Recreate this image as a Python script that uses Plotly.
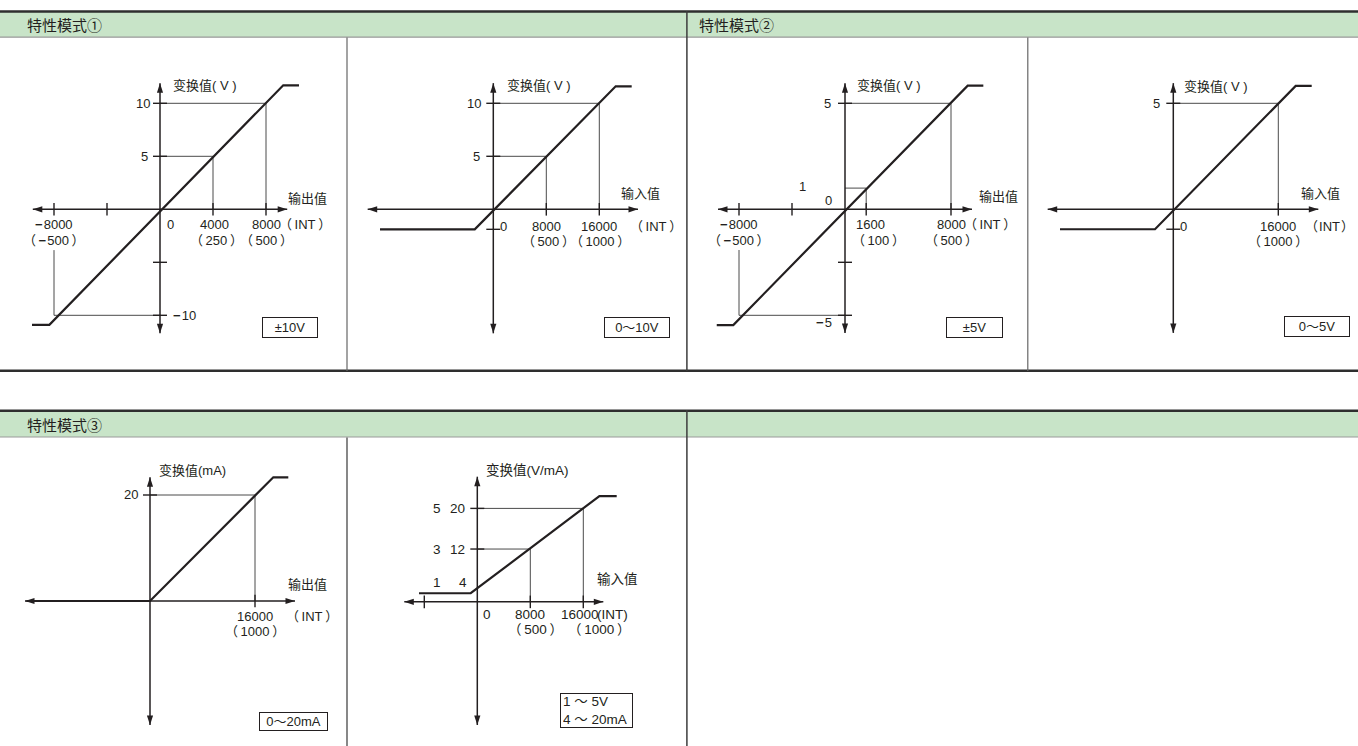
import plotly.graph_objects as go

W, H = 1358, 746
INK = "#231f20"
GUIDE = "#4a4a4a"
GREEN = "#c8e4c8"
FONT = "Liberation Sans, Arial, Noto Sans CJK SC, sans-serif"
CJK = "Noto Sans CJK SC, Liberation Sans, sans-serif"
M = "<b>\u2212</b>\u200a"   # heavy minus sign as in the reference
TS = "\u2009"               # thin space inside the parentheses

# ---------------- data (values in each panel's own units: INT / V / mA) ----------------
# Panel 1 : ±10V
P1_AXIS_X = [-9600, 9600]
P1_AXIS_Y = [-11.7, 11.9]
P1_CURVE_X = [-9660, -8350, 9300, 10490]
P1_CURVE_Y = [-10.9, -10.9, 11.7, 11.7]
P1_GUIDES = [((0, 10), (8000, 10)), ((8000, 10), (8000, 0)),
             ((0, 5), (4000, 5)), ((4000, 5), (4000, 0)),
             ((-8000, -10), (0, -10)), ((-8000, -10), (-8000, -3.85))]
P1_XTICKS = [-8000, -4000, 4000, 8000]
P1_YTICKS = [10, 5, -5, -10]

# Panel 2 : 0~10V
P2_AXIS_X = [-18960, 21840]
P2_AXIS_Y = [-11.7, 11.9]
P2_CURVE_X = [-17100, -2800, 18475, 20890]
P2_CURVE_Y = [-1.89, -1.89, 11.6, 11.6]
P2_GUIDES = [((0, 10), (16000, 10)), ((16000, 10), (16000, 0)),
             ((0, 5), (8000, 5)), ((8000, 5), (8000, 0))]
P2_XTICKS = [8000, 16000]
P2_YTICKS = [10, 5, -1.89]

# Panel 3 : ±5V
P3_AXIS_X = [-9585, 9585]
P3_AXIS_Y = [-5.83, 5.95]
P3_CURVE_X = [-9680, -8430, 9260, 10440]
P3_CURVE_Y = [-5.46, -5.46, 5.83, 5.83]
P3_GUIDES = [((0, 5), (8000, 5)), ((8000, 5), (8000, 0)),
             ((0, 1), (1600, 1)), ((1600, 1), (1600, 0)),
             ((-8000, -5), (0, -5)), ((-8000, -5), (-8000, -1.92))]
P3_XTICKS = [-8000, -4000, 1600, 8000]
P3_YTICKS = [5, -2.5, -5]

# Panel 4 : 0~5V
P4_AXIS_X = [-19140, 22095]
P4_AXIS_Y = [-5.83, 5.95]
P4_CURVE_X = [-17265, -2790, 18650, 21090]
P4_CURVE_Y = [-0.94, -0.94, 5.82, 5.82]
P4_GUIDES = [((0, 5), (16000, 5)), ((16000, 5), (16000, 0))]
P4_XTICKS = [16000]
P4_YTICKS = [5, -0.94]

# Panel 5 : 0~20mA
P5_AXIS_X = [-19050, 22095]
P5_AXIS_Y = [-23.4, 23.34]
P5_CURVE_X = [-18790, 0, 18790, 21075]
P5_CURVE_Y = [0, 0, 23.34, 23.34]
P5_GUIDES = [((0, 20), (16000, 20)), ((16000, 20), (16000, 0))]
P5_XTICKS = [16000]
P5_YTICKS = [20]

# Panel 6 : 1~5V / 4~20mA
P6_BASE = 1.6
P6_AXIS_X = [-11020, 19020]
P6_AXIS_Y = [-22.64, 26.24]
P6_CURVE_X = [-8800, -1000, 18430, 21040]
P6_CURVE_Y = [3.3, 3.3, 22.43, 22.43]
P6_GUIDES = [((0, 20), (16000, 20)), ((16000, 20), (16000, P6_BASE)),
             ((0, 12), (8000, 12)), ((8000, 12), (8000, P6_BASE))]
P6_XTICKS = [-8000, 8000, 16000]
P6_YTICKS = [20, 12]
P6_V_LEVELS = ["5", "3", "1"]
P6_MA_LEVELS = [20, 12, 4]

TITLES = ["特性模式①", "特性模式②", "特性模式③"]


def par(s, sp=TS):
    return "（" + sp + s + sp + "）"


# labels: (text, x, y, xanchor, xshift, yshift)
P1_LABELS = [("变换值( V )", 0, P1_AXIS_Y[1], "left", 12, -2), ("10", 0, 10, "right", -9, 0),
             ("5", 0, 5, "right", -11, 0), ("输出值", P1_AXIS_X[1], 0, "left", 0, 11),
             (M + "8000", -8000, 0, "center", 0, -15), (par(M + "500"), -8000, 0, "center", 0, -31),
             ("0", 0, 0, "center", 10, -15), ("4000", 4000, 0, "center", 1, -15),
             (par("250"), 4000, 0, "center", 3, -31), ("8000", 8000, 0, "center", 0, -15),
             (par("INT"), 8000, 0, "left", 12, -15), (par("500"), 8000, 0, "center", 0, -31),
             (M + "10", 0, -10, "left", 12, 0)]
P2_LABELS = [("变换值( V )", 0, P2_AXIS_Y[1], "left", 13, -2), ("10", 0, 10, "right", -11, 0),
             ("5", 0, 5, "right", -12, 0), ("输入值", P2_AXIS_X[1], 0, "left", -18, 16),
             ("0", 0, 0, "center", 10, -17), ("8000", 8000, 0, "center", 0, -17),
             (par("500"), 8000, 0, "center", 2, -32), ("16000", 16000, 0, "center", 0, -17),
             (par("1000"), 16000, 0, "center", 1, -32), (par("INT"), 16000, 0, "left", 30, -17)]
P3_LABELS = [("变换值( V )", 0, P3_AXIS_Y[1], "left", 11, -2), ("5", 0, 5, "right", -13, 0),
             ("1", 0, 1, "center", -43, 2), ("0", 0, 0, "center", -17, 9),
             ("输出值", P3_AXIS_X[1], 0, "left", 6, 13),
             (M + "8000", -8000, 0, "center", 0, -15), (par(M + "500"), -8000, 0, "center", 0, -31),
             ("1600", 1600, 0, "center", 4, -15), (par("100"), 1600, 0, "center", 12, -31),
             ("8000", 8000, 0, "center", 0, -15), (par("INT"), 8000, 0, "left", 12, -15),
             (par("500"), 8000, 0, "center", 0, -31), (M + "5", 0, -5, "right", -12, -7)]
P4_LABELS = [("变换值( V )", 0, P4_AXIS_Y[1], "left", 10, -3), ("5", 0, 5, "right", -12, 0),
             ("输入值", P4_AXIS_X[1], 0, "left", -18, 16), ("0", 0, 0, "center", 10, -17),
             ("16000", 16000, 0, "center", 0, -17), (par("1000"), 16000, 0, "center", 0, -32),
             (par("INT", "\u200a"), 16000, 0, "left", 26, -17)]
P5_LABELS = [("变换值(mA)", 0, P5_AXIS_Y[1], "left", 8, 7), ("20", 0, 20, "right", -11, 0),
             ("输出值", P5_AXIS_X[1], 0, "left", -8, 17),
             ("16000", 16000, 0, "center", 0, -15), (par("1000"), 16000, 0, "center", 0, -30),
             (par("INT"), 16000, 0, "left", 30, -15)]
P6_LABELS = [("变换值(V/mA)", 0, P6_AXIS_Y[1], "left", 8, 6),
             ("输入值", P6_AXIS_X[1], P6_BASE, "left", -7, 22),
             ("0", 0, P6_BASE, "center", 10, -13), ("8000", 8000, P6_BASE, "center", 0, -13),
             (par("500"), 8000, P6_BASE, "center", 5, -28), ("16000", 16000, P6_BASE, "center", -3, -13),
             ("(INT)", 16000, P6_BASE, "left", 13, -13), (par("1000"), 16000, P6_BASE, "center", 16, -28)]
for v, m in zip(P6_V_LEVELS, P6_MA_LEVELS):
    dy = 7 if m == 4 else 0
    P6_LABELS.append((v, 0, m, "center", -40, dy))
    P6_LABELS.append((str(m), 0, m, "center", -14 if m == 4 else -20, dy))

# ---------------- layout of the panels (pixels) ----------------
# box = (left, right, top, bottom), origin = pixel of data point (0,0), scale = px per unit
PANELS = [
    dict(box=(0, 347, 38, 370), origin=(160, 209.3), scale=(106 / 8000, 10.6), base=0,
         ax=P1_AXIS_X, ay=P1_AXIS_Y, cx=P1_CURVE_X, cy=P1_CURVE_Y, guides=P1_GUIDES,
         xt=P1_XTICKS, yt=P1_YTICKS, labels=P1_LABELS, size=13,
         tag="±10V", tagbox=(262, 318, 317, 338), align="center"),
    dict(box=(348, 686, 38, 370), origin=(493.3, 209.3), scale=(53 / 8000, 10.6), base=0,
         ax=P2_AXIS_X, ay=P2_AXIS_Y, cx=P2_CURVE_X, cy=P2_CURVE_Y, guides=P2_GUIDES,
         xt=P2_XTICKS, yt=P2_YTICKS, labels=P2_LABELS, size=13,
         tag="0～10V", tagbox=(604, 670, 317, 338), align="center"),
    dict(box=(688, 1027, 38, 370), origin=(845, 209.3), scale=(106 / 8000, 21.2), base=0,
         ax=P3_AXIS_X, ay=P3_AXIS_Y, cx=P3_CURVE_X, cy=P3_CURVE_Y, guides=P3_GUIDES,
         xt=P3_XTICKS, yt=P3_YTICKS, labels=P3_LABELS, size=13,
         tag="±5V", tagbox=(946, 1003, 317, 338), align="center"),
    dict(box=(1029, 1358, 38, 370), origin=(1173.3, 209.3), scale=(105 / 16000, 21.2), base=0,
         ax=P4_AXIS_X, ay=P4_AXIS_Y, cx=P4_CURVE_X, cy=P4_CURVE_Y, guides=P4_GUIDES,
         xt=P4_XTICKS, yt=P4_YTICKS, labels=P4_LABELS, size=13,
         tag="0～5V", tagbox=(1284, 1350, 316, 337), align="center"),
    dict(box=(0, 347, 438, 746), origin=(150, 601), scale=(105 / 16000, 5.3), base=0,
         ax=P5_AXIS_X, ay=P5_AXIS_Y, cx=P5_CURVE_X, cy=P5_CURVE_Y, guides=P5_GUIDES,
         xt=P5_XTICKS, yt=P5_YTICKS, labels=P5_LABELS, size=13,
         tag="0～20mA", tagbox=(259, 328, 712, 731), align="center"),
    dict(box=(348, 686, 438, 746), origin=(477.3, 610), scale=(53 / 8000, 5.08), base=P6_BASE,
         ax=P6_AXIS_X, ay=P6_AXIS_Y, cx=P6_CURVE_X, cy=P6_CURVE_Y, guides=P6_GUIDES,
         xt=P6_XTICKS, yt=P6_YTICKS, labels=P6_LABELS, size=13.5,
         tag="1 ～ 5V<br>4 ～ 20mA", tagbox=(560, 633, 693, 728), align="left"),
]

fig = go.Figure()
annotations = []
layout_axes = {}

for i, p in enumerate(PANELS, start=1):
    sfx = "" if i == 1 else str(i)
    xa, ya = "x" + sfx, "y" + sfx
    l, r, t, b = p["box"]
    ox, oy = p["origin"]
    sx, sy = p["scale"]
    layout_axes["xaxis" + sfx] = dict(domain=[l / W, r / W], range=[(l - ox) / sx, (r - ox) / sx],
                                      visible=False, anchor=ya, fixedrange=True)
    layout_axes["yaxis" + sfx] = dict(domain=[1 - b / H, 1 - t / H], range=[(oy - b) / sy, (oy - t) / sy],
                                      visible=False, anchor=xa, fixedrange=True)
    base = p["base"]
    common = dict(xaxis=xa, yaxis=ya, hoverinfo="skip", showlegend=False)

    # guide lines
    gx, gy = [], []
    for (x0, y0), (x1, y1) in p["guides"]:
        gx += [x0, x1, None]
        gy += [y0, y1, None]
    fig.add_trace(go.Scatter(x=gx, y=gy, mode="lines", line=dict(color=GUIDE, width=1), **common))

    # axes
    fig.add_trace(go.Scatter(x=[p["ax"][0], p["ax"][1], None, 0, 0],
                             y=[base, base, None, p["ay"][0], p["ay"][1]],
                             mode="lines", line=dict(color=INK, width=1.5), **common))
    fig.add_trace(go.Scatter(x=[p["ax"][0], p["ax"][1], 0, 0],
                             y=[base, base, p["ay"][1], p["ay"][0]],
                             mode="markers",
                             marker=dict(symbol="arrow", size=10, color=INK,
                                         angle=[270, 90, 0, 180], line=dict(width=0)),
                             **common))
    # ticks
    fig.add_trace(go.Scatter(x=p["xt"], y=[base] * len(p["xt"]), mode="markers",
                             marker=dict(symbol="line-ns-open", size=9, color=INK, line=dict(width=1.4)),
                             **common))
    fig.add_trace(go.Scatter(x=[0] * len(p["yt"]), y=p["yt"], mode="markers",
                             marker=dict(symbol="line-ew-open", size=10, color=INK, line=dict(width=1.4)),
                             **common))
    # characteristic curve
    fig.add_trace(go.Scatter(x=p["cx"], y=p["cy"], mode="lines",
                             line=dict(color=INK, width=2.2), **common))

    for text, x, y, xan, xs, ys in p["labels"]:
        annotations.append(dict(text=text, x=x, y=y, xref=xa, yref=ya, xanchor=xan, yanchor="middle",
                                xshift=xs, yshift=ys, showarrow=False, borderpad=0,
                                font=dict(family=FONT, size=p["size"], color=INK)))
    tl, tr, tt, tb = p["tagbox"]
    pad = 2
    annotations.append(dict(text=p["tag"], x=(tl + tr) / 2 / W, y=1 - (tt + tb) / 2 / H,
                            xref="paper", yref="paper", xanchor="center", yanchor="middle",
                            showarrow=False, align=p["align"], bgcolor="white",
                            bordercolor=INK, borderwidth=1, borderpad=pad,
                            width=(tr - tl) - 2 * pad - 2, height=(tb - tt) - 2 * pad - 2,
                            font=dict(family=FONT, size=p["size"], color=INK)))

# ---------------- frame (header bands & dividers) ----------------
def px(x):
    return x / W


def py(y):
    return 1 - y / H


shapes = []
for top, bot in [(11.5, 37.2), (410.8, 437.0)]:
    shapes.append(dict(type="rect", xref="paper", yref="paper", x0=0, x1=1, y0=py(bot), y1=py(top),
                       fillcolor=GREEN, line=dict(width=0), layer="below"))
    shapes.append(dict(type="line", xref="paper", yref="paper", x0=0, x1=1, y0=py(top), y1=py(top),
                       line=dict(color="#2e2e2e", width=2.5)))
    shapes.append(dict(type="line", xref="paper", yref="paper", x0=0, x1=1, y0=py(bot), y1=py(bot),
                       line=dict(color="#9a9a9a", width=1.2)))
shapes.append(dict(type="line", xref="paper", yref="paper", x0=0, x1=1, y0=py(370.8), y1=py(370.8),
                   line=dict(color="#2e2e2e", width=2.5)))
for x, y0, y1, c, w in [(686.9, 11, 371, "#3c3c3c", 1.5), (347.0, 37.5, 371, "#666666", 1.2),
                        (1027.8, 37.5, 371, "#666666", 1.2), (686.9, 410, 746, "#3c3c3c", 1.5),
                        (347.0, 437.5, 746, "#555555", 1.4)]:
    shapes.append(dict(type="line", xref="paper", yref="paper", x0=px(x), x1=px(x), y0=py(y0), y1=py(y1),
                       line=dict(color=c, width=w)))

for text, x, y in zip(TITLES, [25, 697, 25], [24.5, 24.5, 424]):
    annotations.append(dict(text=text, x=px(x), y=py(y), xref="paper", yref="paper", xanchor="left",
                            yanchor="middle", showarrow=False,
                            font=dict(family=CJK, size=15, color=INK)))

fig.update_layout(width=W, height=H, autosize=False, margin=dict(l=0, r=0, t=0, b=0),
                  paper_bgcolor="white", plot_bgcolor="rgba(0,0,0,0)", showlegend=False,
                  hovermode=False, shapes=shapes, annotations=annotations, **layout_axes)

fig.write_html("out.html", config={"displayModeBar": False, "staticPlot": True},
               post_script="document.body.style.margin='0px';document.body.style.overflow='hidden';")
